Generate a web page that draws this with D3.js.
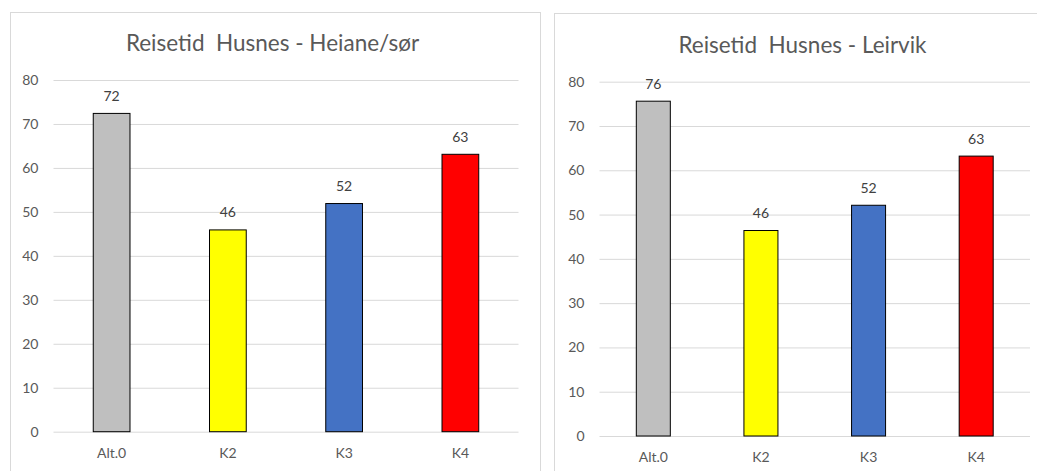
<!DOCTYPE html>
<html>
<head>
<meta charset="utf-8">
<script src="https://cdn.jsdelivr.net/npm/d3@7"></script>
<style>
  html, body { margin: 0; padding: 0; background: #fff; }
  svg { display: block; font-family: Lato, "Open Sans", sans-serif; }
</style>
</head>
<body>
<svg id="chart" width="1037" height="471"></svg>
<script>
// Travel times (minutes) per alternative
const categories = ["Alt.0", "K2", "K3", "K4"];
const heianeValues = [72.4, 45.9, 51.9, 63.1];
const leirvikValues = [75.6, 46.4, 52.1, 63.2];
const yTicks = [0, 10, 20, 30, 40, 50, 60, 70, 80];
const titles = ["Reisetid  Husnes - Heiane/sør", "Reisetid  Husnes - Leirvik"];

const barFill = ["#BFBFBF", "#FFFF00", "#4472C4", "#FF0000"];

const svg = d3.select("#chart");

function drawPanel(opts) {
  const g = svg.append("g");

  // panel frame
  g.append("rect")
    .attr("x", opts.frame[0] + 0.5).attr("y", opts.frame[1] + 0.5)
    .attr("width", opts.frame[2]).attr("height", opts.frame[3])
    .attr("fill", "#fff").attr("stroke", "#D9D9D9").attr("stroke-width", 1);

  const x = d3.scaleBand()
    .domain(categories)
    .range([opts.left, opts.right])
    .paddingInner(0.684)
    .paddingOuter(0.342);

  const y = d3.scaleLinear()
    .domain([0, 80])
    .range([opts.zeroY, opts.topY]);

  // gridlines + tick labels
  const axis = d3.axisLeft(y)
    .tickValues(yTicks)
    .tickSize(-(opts.right - opts.left))
    .tickPadding(15)
    .tickFormat(d3.format("d"));

  const ax = g.append("g")
    .attr("transform", `translate(${opts.left},0)`)
    .call(axis);
  ax.select(".domain").remove();
  ax.selectAll(".tick line").attr("stroke", "#D9D9D9").attr("stroke-width", 1);
  ax.selectAll(".tick text")
    .attr("fill", "#595959")
    .style("font-family", "Lato, 'Open Sans', sans-serif")
    .style("font-size", "14px");

  // bars
  g.selectAll("rect.bar")
    .data(opts.values)
    .join("rect")
    .attr("class", "bar")
    .attr("x", (d, i) => x(categories[i]))
    .attr("width", x.bandwidth())
    .attr("y", d => y(d))
    .attr("height", d => y(0) - y(d))
    .attr("fill", (d, i) => barFill[i])
    .attr("stroke", "#000")
    .attr("stroke-width", 1);

  // value labels
  g.selectAll("text.val")
    .data(opts.values)
    .join("text")
    .attr("class", "val")
    .attr("x", (d, i) => x(categories[i]) + x.bandwidth() / 2)
    .attr("y", d => y(d) - 12.5)
    .attr("text-anchor", "middle")
    .attr("fill", "#404040")
    .style("font-size", "14px")
    .text(d => d3.format(".0f")(d));

  // category labels
  g.selectAll("text.cat")
    .data(categories)
    .join("text")
    .attr("class", "cat")
    .attr("x", d => x(d) + x.bandwidth() / 2)
    .attr("y", opts.zeroY + 26)
    .attr("text-anchor", "middle")
    .attr("fill", "#595959")
    .style("font-size", "14px")
    .text(d => d);

  // title
  g.append("text")
    .attr("x", opts.titleX)
    .attr("y", opts.titleY)
    .attr("text-anchor", "middle")
    .attr("fill", "#595959")
    .style("font-size", "22.5px")
    .style("white-space", "pre")
    .attr("xml:space", "preserve")
    .text(opts.title);
}

drawPanel({
  frame: [10, 12, 530, 470],
  left: 53.5, right: 518.5,
  zeroY: 431.7, topY: 80,
  values: heianeValues,
  title: titles[0],
  titleX: 272.5, titleY: 50.5
});

drawPanel({
  frame: [554, 13, 490, 470],
  left: 599.5, right: 1030,
  zeroY: 436, topY: 81.7,
  values: leirvikValues,
  title: titles[1],
  titleX: 802.5, titleY: 52.5
});
</script>
</body>
</html>
